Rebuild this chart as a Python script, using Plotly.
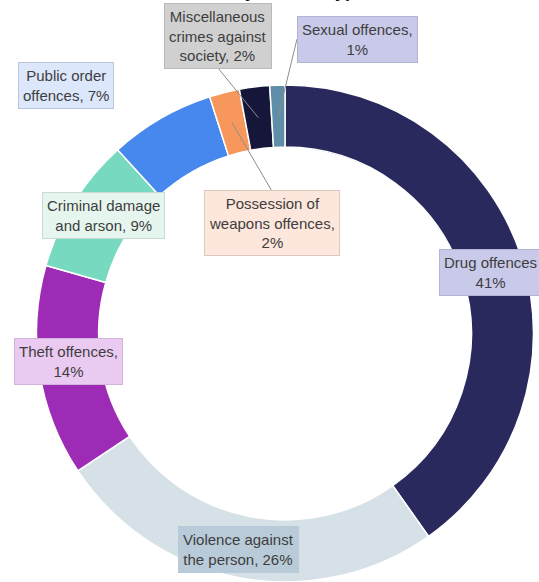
import math
import plotly.graph_objects as go

# Share of proven offences by offence type (%), clockwise from 12 o'clock
categories = [
    "Drug offences",
    "Violence against the person",
    "Theft offences",
    "Criminal damage and arson",
    "Public order offences",
    "Possession of weapons offences",
    "Miscellaneous crimes against society",
    "Sexual offences",
]
shares = [41, 26, 14, 9, 7, 2, 2, 1]

# Label text for each segment (line breaks as displayed)
label_lines = [
    "Drug offences<br>{}%",
    "Violence against<br>the person, {}%",
    "Theft offences,<br>{}%",
    "Criminal damage<br>and arson, {}%",
    "Public order<br>offences, {}%",
    "Possession of<br>weapons offences,<br>{}%",
    "Miscellaneous<br>crimes against<br>society, {}%",
    "Sexual offences,<br>{}%",
]

slice_colors = ["#29295e", "#d6e1e7", "#9d2bb5", "#77d9c0",
                "#4688ee", "#f8975c", "#16163a", "#5f8ea8"]
box_fills = ["#c9c9e9", "#b9cbd8", "#ebcaf1", "#e6f6ef",
             "#dce7fb", "#fde6db", "#d0d0d0", "#c9c9ea"]
box_borders = ["#b3b3d3", "#b9cbd8", "#d3b3d9", "#c9dcd4",
               "#b9c5da", "#dcc8bf", "#b9b9b9", "#b3b3d4"]
# Label box centres in pixels (x from left, y from top)
box_centres = [(490, 272), (238, 549), (68, 361), (103, 215),
               (66, 85), (272, 223), (218, 36), (357, 40)]
# Where a leader line leaves its label box (None = label sits on the ring)
leader_starts = [None, None, None, None, None, (273, 193), (218, 68), (297, 39)]

W, H = 539, 582
HOLE = 0.75
DOMAIN_X = [35 / W, 535 / W]
DOMAIN_Y = [0.0, 0.854]


def px(x):
    return x / W


def py(y):
    return 1 - y / H


# Ring geometry derived from the pie domain
radius = min((DOMAIN_X[1] - DOMAIN_X[0]) * W, (DOMAIN_Y[1] - DOMAIN_Y[0]) * H) / 2
cx = (DOMAIN_X[0] + DOMAIN_X[1]) / 2 * W
cy = H - (DOMAIN_Y[0] + DOMAIN_Y[1]) / 2 * H
mid_r = radius * (1 + HOLE) / 2

fig = go.Figure(go.Pie(
    labels=categories,
    values=shares,
    sort=False,
    direction="clockwise",
    rotation=0,
    hole=HOLE,
    textinfo="none",
    marker=dict(colors=slice_colors, line=dict(color="white", width=1.5)),
    domain=dict(x=DOMAIN_X, y=DOMAIN_Y),
    showlegend=False,
))

total = sum(shares)
cum = 0
shapes = []
annotations = []
for i, v in enumerate(shares):
    mid = (cum + v / 2) / total * 2 * math.pi
    cum += v
    if leader_starts[i] is not None:
        ex = cx + mid_r * math.sin(mid)
        ey = cy - mid_r * math.cos(mid)
        sx, sy = leader_starts[i]
        shapes.append(dict(type="line", xref="paper", yref="paper",
                           x0=px(sx), y0=py(sy), x1=px(ex), y1=py(ey),
                           line=dict(color="#8c8c8c", width=1)))
    bx, by = box_centres[i]
    annotations.append(dict(
        x=px(bx), y=py(by), xref="paper", yref="paper",
        xanchor="center", yanchor="middle", showarrow=False,
        text=label_lines[i].format(v), align="center",
        font=dict(family="Liberation Sans, Arial, sans-serif", size=15, color="#3e3e3e"),
        bgcolor=box_fills[i], bordercolor=box_borders[i], borderwidth=1, borderpad=4,
    ))

# Chart heading, sitting at the very top edge
annotations.append(dict(
    x=px(87), y=py(3), xref="paper", yref="paper",
    xanchor="left", yanchor="bottom", showarrow=False,
    text="<b>Proven offences by offence type</b>",
    font=dict(family="Liberation Sans, Arial, sans-serif", size=18, color="#111111"),
))

fig.update_layout(
    width=W, height=H,
    margin=dict(l=0, r=0, t=0, b=0),
    paper_bgcolor="white", plot_bgcolor="white",
    shapes=shapes, annotations=annotations,
)

fig.write_html("out.html")
